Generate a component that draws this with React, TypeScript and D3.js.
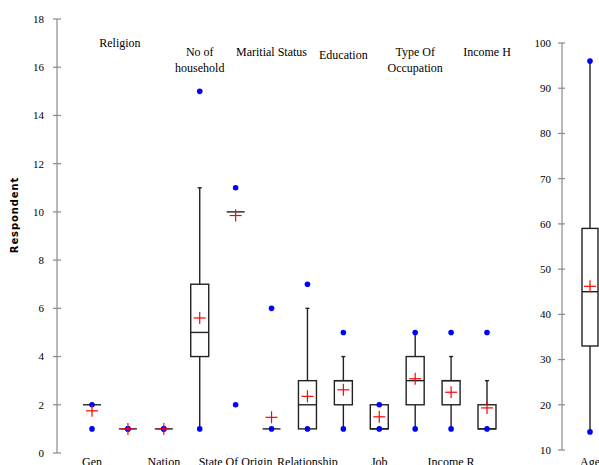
import React from "react";
import * as d3 from "d3";

const categories = ["Gen", "Religion", "Nation", "No of household", "State Of Origin", "Maritial Status", "Relationship", "Education", "Job", "Type Of Occupation", "Income R", "Income H"];
const whiskerLow = [2, 1, 1, 1, 10, 1, 1, 1, 1, 1, 1, 1];
const q1 = [2, 1, 1, 4, 10, 1, 1, 2, 1, 2, 2, 1];
const median = [2, 1, 1, 5, 10, 1, 2, 3, 1, 3, 3, 1];
const q3 = [2, 1, 1, 7, 10, 1, 3, 3, 2, 4, 3, 2];
const whiskerHigh = [2, 1, 1, 11, 10, 1, 6, 4, 2, 5, 4, 3];
const means = [1.75, 1, 1, 5.6, 9.85, 1.48, 2.35, 2.62, 1.5, 3.08, 2.52, 1.87];
const minPoints = [1, 1, 1, 1, 2, 1, 1, 1, 1, 1, 1, 1];
const maxPoints = [2, 1, 1, 15, 11, 6, 7, 5, 2, 5, 5, 5];
const leftTicks = [0, 2, 4, 6, 8, 10, 12, 14, 16, 18];

const ageCategory = ["Age"];
const ageStats = { low: 14, q1: 33, median: 45, q3: 59, high: 96, mean: 46.2, min: 14, max: 96 };
const rightTicks = [10, 20, 30, 40, 50, 60, 70, 80, 90, 100];

const labelLines: Record<string, string[]> = {
  "No of household": ["No of", "household"],
  "Type Of Occupation": ["Type Of", "Occupation"],
};

export default function App() {
  const W = 599, H = 465;
  const x = d3.scalePoint<string>().domain(categories).range([92, 487]);
  const xAge = d3.scalePoint<string>().domain(ageCategory).range([582, 598]).padding(0.5);
  const yL = d3.scaleLinear().domain([0, 18]).range([453, 19]);
  const yR = d3.scaleLinear().domain([10, 100]).range([450, 43]);

  const boxW = 18;
  const serif = "'Liberation Serif', 'Times New Roman', serif";
  const axisColor = "#8a8a8a";
  const boxColor = "#222";

  const drawBox = (cx: number, y: (v: number) => number, s: { low: number; q1: number; median: number; q3: number; high: number; mean: number; min: number; max: number }, key: string, bw: number) => {
    const h = bw / 2;
    return (
      <g key={key}>
        {s.high > s.q3 && <line x1={cx} x2={cx} y1={y(s.q3)} y2={y(s.high)} stroke={boxColor} strokeWidth={1.4} />}
        {s.high > s.q3 && <line x1={cx - 2} x2={cx + 2} y1={y(s.high)} y2={y(s.high)} stroke={boxColor} strokeWidth={1.4} />}
        {s.low < s.q1 && <line x1={cx} x2={cx} y1={y(s.q1)} y2={y(s.low)} stroke={boxColor} strokeWidth={1.4} />}
        {s.low < s.q1 && <line x1={cx - 2} x2={cx + 2} y1={y(s.low)} y2={y(s.low)} stroke={boxColor} strokeWidth={1.4} />}
        {s.q3 > s.q1 ? (
          <rect x={cx - h} y={y(s.q3)} width={bw} height={y(s.q1) - y(s.q3)} fill="white" stroke={boxColor} strokeWidth={1.4} />
        ) : null}
        <line x1={cx - h} x2={cx + h} y1={y(s.median)} y2={y(s.median)} stroke={boxColor} strokeWidth={1.4} />
        <circle cx={cx} cy={y(s.max)} r={2.8} fill="#0000ff" />
        <circle cx={cx} cy={y(s.min)} r={2.8} fill="#0000ff" />
        <line x1={cx - 6} x2={cx + 6} y1={y(s.mean)} y2={y(s.mean)} stroke="#ff0000" strokeWidth={1.2} />
        <line x1={cx} x2={cx} y1={y(s.mean) - 6} y2={y(s.mean) + 6} stroke="#ff0000" strokeWidth={1.2} />
      </g>
    );
  };

  const topDy: Record<string, number> = { "Religion": 47, "Maritial Status": 56, "Education": 59 };
  const topDx: Record<string, number> = { "Religion": -8 };

  return (
    <svg width={W} height={H} style={{ position: "absolute", left: 0, top: 0, background: "white" }}>
      <rect width={W} height={H} fill="white" />
      <line x1={57} x2={57} y1={yL(18)} y2={yL(0)} stroke={axisColor} strokeWidth={1.2} />
      {leftTicks.map((t) => (
        <g key={"lt" + t}>
          <line x1={53} x2={61} y1={yL(t)} y2={yL(t)} stroke={axisColor} strokeWidth={1.2} />
          <text x={44} y={yL(t)} dy="0.35em" textAnchor="end" fontFamily={serif} fontSize={11} fill="#000">{t}</text>
        </g>
      ))}
      <text transform={`translate(18,215) rotate(-90)`} textAnchor="middle" fontFamily="'DejaVu Sans', sans-serif" fontSize={10} fontWeight="bold" letterSpacing={0.9} fill="#000">Respondent</text>

      <line x1={562} x2={562} y1={yR(100)} y2={yR(10)} stroke={axisColor} strokeWidth={1.2} />
      {rightTicks.map((t) => (
        <g key={"rt" + t}>
          <line x1={558} x2={565} y1={yR(t)} y2={yR(t)} stroke={axisColor} strokeWidth={1.2} />
          <text x={551} y={yR(t)} dy="0.35em" textAnchor="end" fontFamily={serif} fontSize={11} fill="#000">{t}</text>
        </g>
      ))}

      {categories.map((c, i) =>
        drawBox(x(c)!, yL, { low: whiskerLow[i], q1: q1[i], median: median[i], q3: q3[i], high: whiskerHigh[i], mean: means[i], min: minPoints[i], max: maxPoints[i] }, "b" + c, boxW)
      )}
      {drawBox(xAge("Age")!, yR, ageStats, "age", 16)}

      {categories.map((c, i) => {
        const cx = x(c)! + (topDx[c] || 0);
        if (i % 2 === 1) {
          const lines = labelLines[c] || [c];
          const y0 = topDy[c] || 56;
          return (
            <text key={"l" + c} textAnchor="middle" fontFamily={serif} fontSize={12} fill="#000">
              {lines.map((ln, k) => (
                <tspan key={k} x={cx} y={y0 + k * 16}>{ln}</tspan>
              ))}
            </text>
          );
        }
        return (
          <text key={"l" + c} x={cx} y={466} textAnchor="middle" fontFamily={serif} fontSize={12} fill="#000">{c}</text>
        );
      })}
      <text x={xAge("Age")!} y={466} textAnchor="middle" fontFamily={serif} fontSize={12} fill="#000">Age</text>
    </svg>
  );
}
